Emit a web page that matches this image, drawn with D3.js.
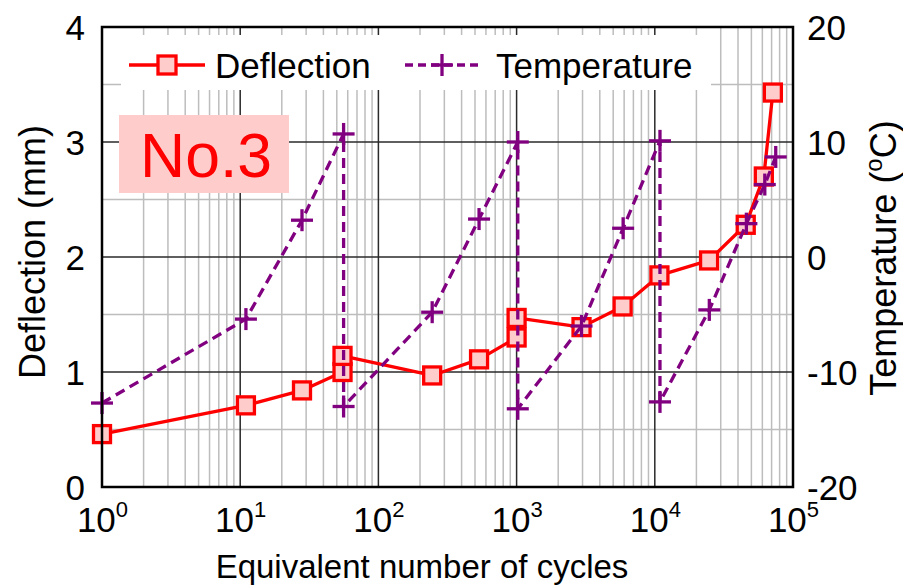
<!DOCTYPE html>
<html>
<head>
<meta charset="utf-8">
<script src="https://cdn.jsdelivr.net/npm/d3@7"></script>
<style>
  html, body { margin: 0; padding: 0; background: #fff; }
  svg { display: block; font-family: Arial, "Liberation Sans", sans-serif; }
</style>
</head>
<body>
<svg id="chart" width="903" height="585"></svg>
<script>
// ---- data ----
const deflCycles = [1, 11, 28, 55, 55, 245, 535, 1000, 1000, 2950, 5850, 10800, 24700, 45500, 61500, 71500];
const deflection = [0.46, 0.71, 0.84, 1.00, 1.14, 0.97, 1.11, 1.30, 1.47, 1.39, 1.57, 1.84, 1.97, 2.28, 2.70, 3.43];

const tempCycles = [1, 11, 28, 56, 56, 245, 535, 1020, 1020, 2950, 5900, 10900, 10900, 24800, 46000, 62500, 75000];
const temperature = [-12.7, -5.4, 3.2, 10.7, -13.0, -4.8, 3.3, 10.0, -13.2, -6.0, 2.5, 10.1, -12.6, -4.6, 2.9, 6.3, 8.7];

const xTickExponents = [0, 1, 2, 3, 4, 5];
const yLeftTicks = [0, 1, 2, 3, 4];
const yRightTicks = [-20, -10, 0, 10, 20];

const seriesNames = ["Deflection", "Temperature"];
const xTitle = "Equivalent number of cycles";
const yLeftTitle = "Deflection (mm)";
const specimenLabel = "No.3";

// ---- layout ----
const L = 102, R = 793, T = 27, B = 487;
const svg = d3.select("#chart");

const x = d3.scaleLog().domain([1, 1e5]).range([L, R]);
const yL = d3.scaleLinear().domain([0, 4]).range([B, T]);
const yR = d3.scaleLinear().domain([-20, 20]).range([B, T]);

// ---- grid ----
const grid = svg.append("g");
const minorX = [];
for (let n = 0; n < 5; n++) for (let k = 2; k <= 9; k++) minorX.push(k * Math.pow(10, n));
const majorX = [10, 100, 1000, 10000];
grid.selectAll(".mx").data(minorX).join("line")
  .attr("x1", d => x(d)).attr("x2", d => x(d)).attr("y1", T).attr("y2", B)
  .attr("stroke", "#bdbdbd").attr("stroke-width", 1.5);
grid.selectAll(".my").data([0.5, 1.5, 2.5, 3.5]).join("line")
  .attr("x1", L).attr("x2", R).attr("y1", d => yL(d)).attr("y2", d => yL(d))
  .attr("stroke", "#bdbdbd").attr("stroke-width", 1.5);
grid.selectAll(".Mx").data(majorX).join("line")
  .attr("x1", d => x(d)).attr("x2", d => x(d)).attr("y1", T).attr("y2", B)
  .attr("stroke", "#2a2a2a").attr("stroke-width", 1.5);
grid.selectAll(".My").data([1, 2, 3]).join("line")
  .attr("x1", L).attr("x2", R).attr("y1", d => yL(d)).attr("y2", d => yL(d))
  .attr("stroke", "#2a2a2a").attr("stroke-width", 1.5);

// ---- legend box & label box (cover grid) ----
svg.append("rect").attr("x", 121).attr("y", 35).attr("width", 590).attr("height", 55).attr("fill", "#fff");
svg.append("rect").attr("x", 119).attr("y", 115).attr("width", 170).attr("height", 78).attr("fill", "#ffcccc");
svg.append("text").attr("x", 140).attr("y", 177).attr("font-size", 62.5).attr("fill", "#ff0000").text(specimenLabel);

// ---- deflection series ----
const deflData = deflCycles.map((c, i) => [c, deflection[i]]);
svg.append("path").datum(deflData)
  .attr("fill", "none").attr("stroke", "#ff0000").attr("stroke-width", 3.3).attr("stroke-linejoin", "round")
  .attr("d", d3.line().x(d => x(d[0])).y(d => yL(d[1])));
svg.append("g").selectAll("rect").data(deflData).join("rect")
  .attr("x", d => x(d[0]) - 8.5).attr("y", d => yL(d[1]) - 8.5).attr("width", 17).attr("height", 17)
  .attr("fill", "#ffcccc").attr("stroke", "#ff0000").attr("stroke-width", 3.3);

// ---- temperature series ----
const tempData = tempCycles.map((c, i) => [c, temperature[i]]);
const purple = "#800080";
svg.append("path").datum(tempData)
  .attr("fill", "none").attr("stroke", purple).attr("stroke-width", 3.3).attr("stroke-dasharray", "10,6")
  .attr("d", d3.line().x(d => x(d[0])).y(d => yR(d[1])));
const plus = svg.append("g").selectAll("g").data(tempData).join("g")
  .attr("transform", d => `translate(${x(d[0])},${yR(d[1])})`);
plus.append("line").attr("x1", -11).attr("x2", 11).attr("stroke", purple).attr("stroke-width", 3.3);
plus.append("line").attr("y1", -11).attr("y2", 11).attr("stroke", purple).attr("stroke-width", 3.3);

// ---- frame ----
svg.append("rect").attr("x", L).attr("y", T).attr("width", R - L).attr("height", B - T)
  .attr("fill", "none").attr("stroke", "#000").attr("stroke-width", 2.5);

// ---- axes ----
const axL = svg.append("g").attr("transform", `translate(${L},0)`)
  .call(d3.axisLeft(yL).tickValues(yLeftTicks).tickSize(0).tickPadding(17).tickFormat(d3.format("d")));
axL.select(".domain").remove();
axL.selectAll("text").attr("font-size", 35).attr("font-family", null).attr("fill", "#000").attr("dy", "0.35em");

const axR = svg.append("g").attr("transform", `translate(${R},0)`)
  .call(d3.axisRight(yR).tickValues(yRightTicks).tickSize(0).tickPadding(14).tickFormat(d => String(d)));
axR.select(".domain").remove();
axR.selectAll("text").attr("font-size", 35).attr("font-family", null).attr("fill", "#000").attr("dy", "0.35em");

const axB = svg.append("g").attr("transform", `translate(0,${B})`)
  .call(d3.axisBottom(x).tickValues(xTickExponents.map(e => Math.pow(10, e))).tickSize(0).tickFormat(""));
axB.select(".domain").remove();
axB.selectAll(".tick").each(function(d) {
  const e = Math.round(Math.log10(d));
  const t = d3.select(this).select("text")
    .attr("y", 45).attr("dy", null).attr("font-size", 35).attr("font-family", null).attr("fill", "#000")
    .attr("text-anchor", "middle");
  t.text(null);
  t.append("tspan").text("10");
  t.append("tspan").attr("font-size", 22).attr("dy", -15).text(String(e));
});

// ---- titles ----
svg.append("text").attr("x", 422).attr("y", 578).attr("text-anchor", "middle").attr("font-size", 33).text(xTitle);
svg.append("text").attr("transform", "translate(45,252) rotate(-90)").attr("text-anchor", "middle")
  .attr("font-size", 36).text(yLeftTitle);
const rt = svg.append("text").attr("transform", "translate(896,258) rotate(-90)").attr("text-anchor", "middle")
  .attr("font-size", 36);
rt.append("tspan").text("Temperature (");
rt.append("tspan").attr("font-size", 24).attr("dy", -14).text("o");
rt.append("tspan").attr("dy", 14).text("C)");

// ---- legend ----
const lg = svg.append("g");
lg.append("line").attr("x1", 129).attr("x2", 205).attr("y1", 65).attr("y2", 65)
  .attr("stroke", "#ff0000").attr("stroke-width", 3.3);
lg.append("rect").attr("x", 167 - 9).attr("y", 65 - 9).attr("width", 18).attr("height", 18)
  .attr("fill", "#ffcccc").attr("stroke", "#ff0000").attr("stroke-width", 3.3);
lg.append("text").attr("x", 215).attr("y", 78).attr("font-size", 35).text(seriesNames[0]);
lg.append("line").attr("x1", 405).attr("x2", 481).attr("y1", 65).attr("y2", 65)
  .attr("stroke", purple).attr("stroke-width", 3.3).attr("stroke-dasharray", "8,5");
lg.append("line").attr("x1", 431).attr("x2", 453).attr("y1", 65).attr("y2", 65)
  .attr("stroke", purple).attr("stroke-width", 3.3);
lg.append("line").attr("x1", 442).attr("x2", 442).attr("y1", 54).attr("y2", 76)
  .attr("stroke", purple).attr("stroke-width", 3.3);
lg.append("text").attr("x", 496).attr("y", 78).attr("font-size", 35).text(seriesNames[1]);
</script>
</body>
</html>
